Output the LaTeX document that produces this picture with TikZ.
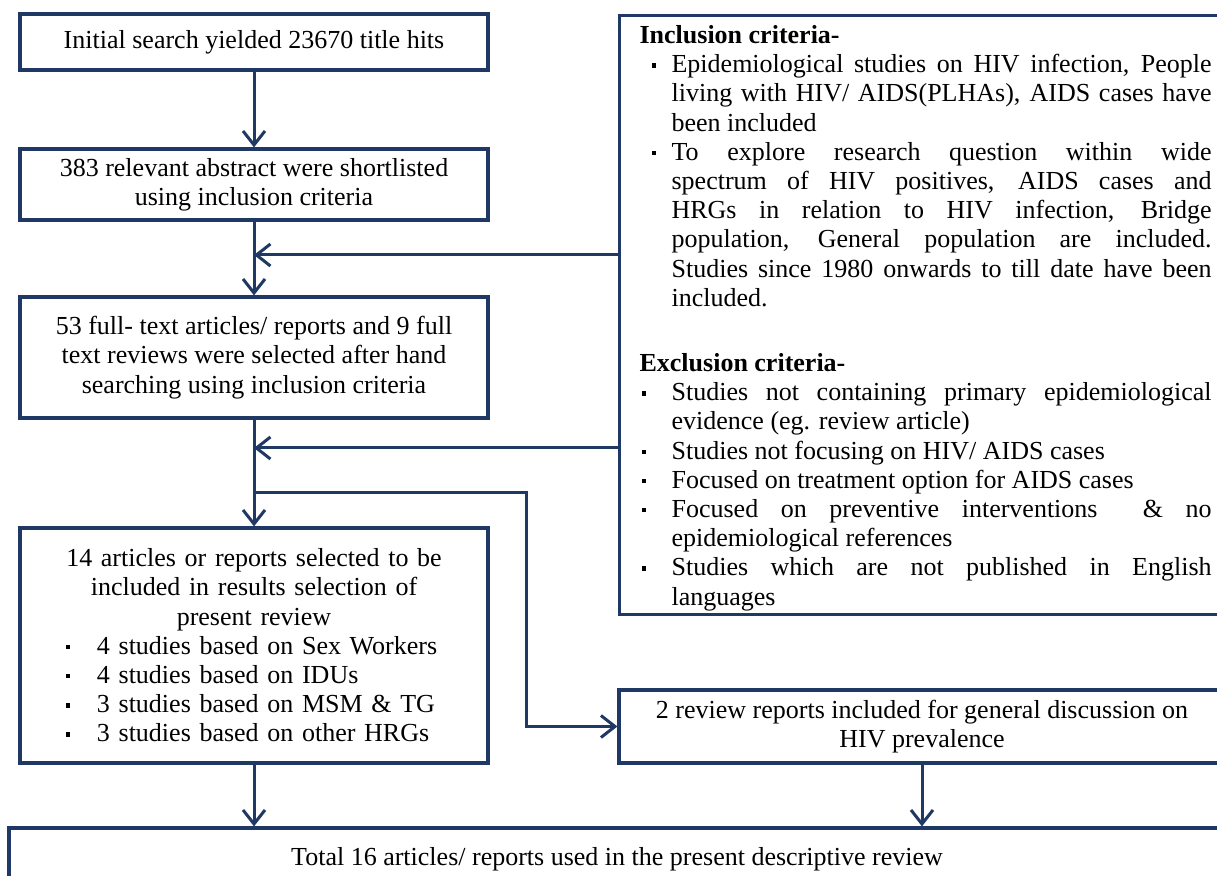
\documentclass[tikz,border=0pt]{standalone}
\usepackage{fontspec}
\setmainfont{Liberation Serif}
\usetikzlibrary{arrows.meta}
\definecolor{boxblue}{RGB}{31,56,100}
\newcommand{\sqbullet}{\rule[2.6pt]{2.2pt}{2.2pt}}
\newcommand{\critem}[3]{\par\noindent\hangindent=#2\hangafter=1\makebox[#2][l]{\hspace*{#1}\sqbullet}#3}

\begin{document}
\begin{tikzpicture}[x=0.5pt,y=-0.5pt,
    every node/.style={font=\fontsize{13}{14.6}\selectfont},
    flowbox/.style={draw=boxblue,line width=1.6pt,inner sep=0pt,align=center,minimum width=234pt},
    flow/.style={draw=boxblue,line width=1.5pt},
    arr/.style={flow,-{Straight Barb[length=7pt,width=11pt]}}]

	\useasboundingbox (0,0) rectangle (1217,876);
	\fill[white] (0,0) rectangle (1217,876);

	% left column
	\node[flowbox,minimum height=28pt] (search) at (254,42) {Initial search yielded 23670 title hits};
	\node[flowbox,minimum height=35.5pt] (abstract) at (254,184.5) {383 relevant abstract were shortlisted\\ using inclusion criteria};
	\node[flowbox,minimum height=60.5pt] (fulltext) at (254,357.5) {53 full- text articles/ reports and 9 full\\ text reviews were selected after hand\\ searching using inclusion criteria};
	\node[flowbox,minimum height=117.5pt,text width=224pt,align=left] (selected) at (254,645.5) {%
		{\centering 14 articles or reports selected to be\\ included in results selection of\\ present review\par}
		\critem{18pt}{33.5pt}{4 studies based on Sex Workers}
		\critem{18pt}{33.5pt}{4 studies based on IDUs}
		\critem{18pt}{33.5pt}{3 studies based on MSM \& TG}
		\critem{18pt}{33.5pt}{3 studies based on other HRGs}\par};

	% right column
	\node[flowbox,anchor=north west,minimum width=0pt,text width=286pt,inner xsep=10pt,inner ysep=2pt,align=justify] (crit) at (618,14) {%
		\noindent\rule{0pt}{12pt}\textbf{Inclusion criteria-}
		\critem{6pt}{16pt}{Epidemiological studies on HIV infection, People\linebreak living with HIV/ AIDS(PLHAs), AIDS cases have\linebreak been included}
		\critem{6pt}{16pt}{To explore research question within wide\linebreak spectrum of HIV positives, AIDS cases and\linebreak HRGs in relation to HIV infection, Bridge\linebreak population, General population are included.\linebreak Studies since 1980 onwards to till date have been\linebreak included.}
		\par\vspace{18pt}
		\noindent\textbf{Exclusion criteria-}
		\critem{1pt}{16pt}{Studies not containing primary epidemiological\linebreak evidence (eg. review article)}
		\critem{1pt}{16pt}{Studies not focusing on HIV/ AIDS cases}
		\critem{1pt}{16pt}{Focused on treatment option for AIDS cases}
		\critem{1pt}{16pt}{Focused on preventive interventions \ \& no\linebreak epidemiological references}
		\critem{1pt}{16pt}{Studies which are not published in English\linebreak languages}\par\vspace{-5.5pt}};
	\node[flowbox,minimum width=303pt,minimum height=36.5pt] (review) at (922,726.5) {2 review reports included for general discussion on\\ HIV prevalence};

	% bottom
	\node[flowbox,minimum width=608pt,minimum height=31pt] (total) at (617,859) {Total 16 articles/ reports used in the present descriptive review};

	\coordinate (incl) at (254,255);
	\coordinate (excl) at (254,448);
	\coordinate (split) at (254,493);
	\coordinate (bend) at (526,493);

	\draw[arr] (search) -- (abstract);
	\draw[arr] (abstract) -- (fulltext);
	\draw[arr] (fulltext) -- (selected);
	\draw[arr] (crit.west |- incl) -- (incl);
	\draw[arr] (crit.west |- excl) -- (excl);
	\draw[arr] (split) -- (bend) |- (review.west);
	\draw[arr] (selected.south) -- (selected.south |- total.north);
	\draw[arr] (review.south) -- (review.south |- total.north);

\end{tikzpicture}
\end{document}
